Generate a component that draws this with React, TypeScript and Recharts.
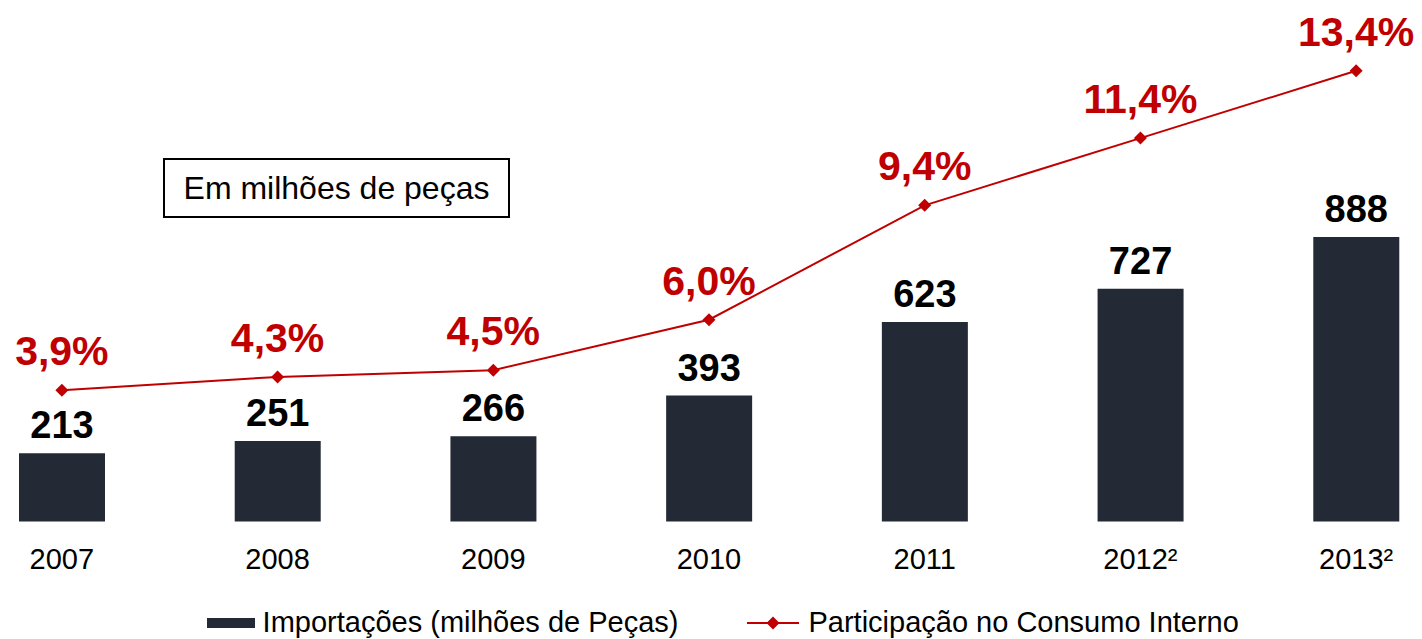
import { Bar, ComposedChart, LabelList, Legend, Line, XAxis, YAxis } from 'recharts'

const years = ['2007', '2008', '2009', '2010', '2011', '2012²', '2013²']
const imports = [213, 251, 266, 393, 623, 727, 888]
const share = [3.9, 4.3, 4.5, 6.0, 9.4, 11.4, 13.4]

const importsName = 'Importações (milhões de Peças)'
const shareName = 'Participação no Consumo Interno'
const boxNote = 'Em milhões de peças'

const data = years.map((year, i) => ({ year, imports: imports[i], share: share[i] }))

const FONT = '"Liberation Sans", Arial, sans-serif'
const BAR = '#232935'
const RED = '#c00000'

const fmtPct = (v: number) => `${v.toFixed(1).replace('.', ',')}%`

function Diamond({ cx, cy }: any) {
  if (cx == null || cy == null) return null
  const r = 6.5
  return <polygon points={`${cx},${cy - r} ${cx + r},${cy} ${cx},${cy + r} ${cx - r},${cy}`} fill={RED} />
}

function YearTick({ x, y, payload }: any) {
  return (
    <text x={x} y={y + 47.5} textAnchor="middle" fontSize={29} fill="#000" fontFamily={FONT}>
      {payload.value}
    </text>
  )
}

function BarValue({ x, y, width, value }: any) {
  return (
    <text x={x + width / 2} y={y - 15} textAnchor="middle" fontSize={38} fontWeight="bold" fill="#000" fontFamily={FONT}>
      {value}
    </text>
  )
}

function PctValue({ x, y, value }: any) {
  return (
    <text x={x} y={y - 25} textAnchor="middle" fontSize={41} fontWeight="bold" fill={RED} fontFamily={FONT}>
      {fmtPct(Number(value))}
    </text>
  )
}

function LegendRow() {
  return (
    <div style={{ display: 'flex', alignItems: 'center', height: 36, paddingTop: 3, boxSizing: 'border-box', paddingLeft: 253, fontFamily: FONT, fontSize: 29, color: '#000' }}>
      <span style={{ display: 'inline-block', width: 48, height: 10, background: BAR, marginRight: 8 }} />
      <span>{importsName}</span>
      <svg width={52} height={16} style={{ marginLeft: 69, marginRight: 9 }}>
        <line x1={0} y1={8} x2={52} y2={8} stroke={RED} strokeWidth={2} />
        <polygon points="26,1.5 32.5,8 26,14.5 19.5,8" fill={RED} />
      </svg>
      <span>{shareName}</span>
    </div>
  )
}

export default function App() {
  return (
    <div style={{ position: 'relative', width: 1422, height: 639, overflow: 'hidden', background: '#fff' }}>
      <style>{'body{margin:0}'}</style>
      <div style={{ position: 'absolute', left: -46.4, top: 0 }}>
        <ComposedChart width={1510} height={639} data={data} margin={{ top: 17, right: 0, left: 0, bottom: 0 }}>
          <XAxis dataKey="year" axisLine={false} tickLine={false} tickSize={0} tickMargin={0} height={81.5} interval={0} tick={<YearTick />} />
          <YAxis yAxisId="left" hide domain={[0, 1575]} />
          <YAxis yAxisId="right" orientation="right" hide domain={[0, 15]} />
          <Legend verticalAlign="bottom" height={36} content={() => <LegendRow />} />
          <Bar yAxisId="left" dataKey="imports" name={importsName} fill={BAR} barSize={86} isAnimationActive={false}>
            <LabelList dataKey="imports" content={<BarValue />} />
          </Bar>
          <Line
            yAxisId="right"
            type="linear"
            dataKey="share"
            name={shareName}
            stroke={RED}
            strokeWidth={2}
            dot={<Diamond />}
            activeDot={false}
            isAnimationActive={false}
          >
            <LabelList dataKey="share" content={<PctValue />} />
          </Line>
        </ComposedChart>
      </div>
      <div
        style={{
          position: 'absolute',
          left: 163,
          top: 158,
          width: 347,
          height: 60,
          boxSizing: 'border-box',
          border: '2px solid #000',
          display: 'flex',
          alignItems: 'center',
          justifyContent: 'center',
          fontFamily: FONT,
          fontSize: 32,
          color: '#000',
          background: '#fff',
        }}
      >
        {boxNote}
      </div>
    </div>
  )
}
